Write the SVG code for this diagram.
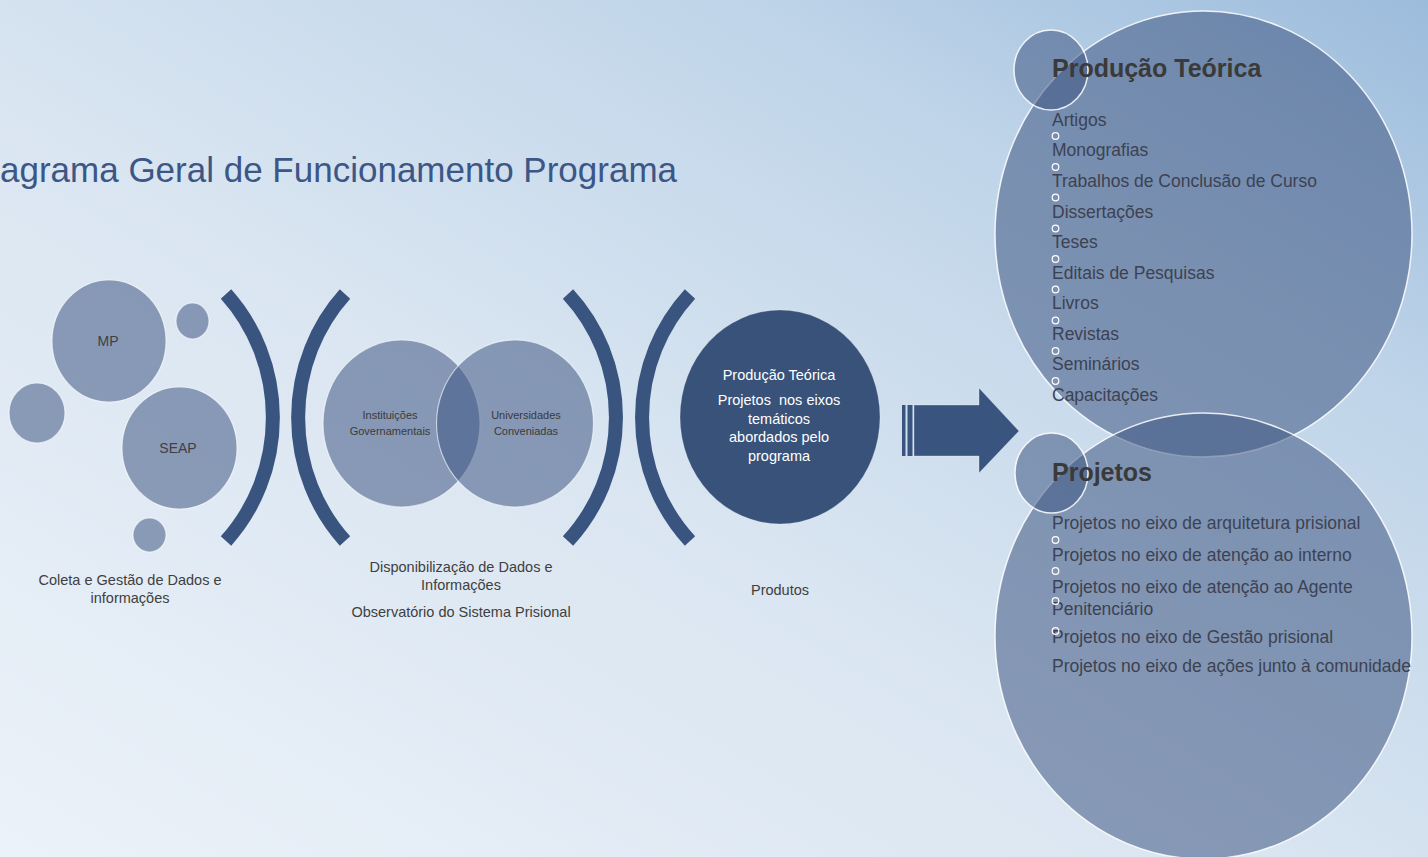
<svg xmlns="http://www.w3.org/2000/svg" width="1428" height="857" viewBox="0 0 1428 857">
  <defs>
    <linearGradient id="bg" x1="0" y1="1" x2="1" y2="0">
      <stop offset="0" stop-color="#ecf2f9"/>
      <stop offset="0.45" stop-color="#d9e5f1"/>
      <stop offset="0.75" stop-color="#c0d5e9"/>
      <stop offset="1" stop-color="#9cbcdc"/>
    </linearGradient>
    <style>
      .bub { fill: #3f5784; fill-opacity: 0.55; stroke: #ffffff; stroke-opacity: 0.6; stroke-width: 1.2; }
      .big { fill: #3f5784; fill-opacity: 0.55; stroke: #ffffff; stroke-opacity: 0.85; stroke-width: 1.5; }
      .dark { fill: #38527a; stroke: #ffffff; stroke-opacity: 0.25; stroke-width: 1; }
      .brk { fill: none; stroke: #3a5480; stroke-width: 14; stroke-linecap: butt; }
      .lbl { font-family: "Liberation Sans", Arial, sans-serif; font-size: 14.5px; fill: #404040; text-anchor: middle; }
      .sm { font-family: "Liberation Sans", Arial, sans-serif; font-size: 11px; fill: #3a3a3a; text-anchor: middle; }
      .wt { font-family: "Liberation Sans", Arial, sans-serif; font-size: 14.5px; fill: #ffffff; text-anchor: middle; white-space: pre; }
      .hd { font-family: "Liberation Sans", Arial, sans-serif; font-size: 25px; font-weight: bold; fill: #3a3a3a; }
      .it { font-family: "Liberation Sans", Arial, sans-serif; font-size: 17.5px; fill: #3d4252; }
      .bl { fill: none; stroke: #ffffff; stroke-width: 1.2; }
      .title { font-family: "Liberation Sans", Arial, sans-serif; font-size: 35px; fill: #3c5686; }
    </style>
  </defs>

  <rect x="0" y="0" width="1428" height="857" fill="url(#bg)"/>

  <text class="title" x="0" y="182">agrama Geral de Funcionamento Programa</text>

  <g id="coleta">
    <ellipse class="bub" cx="109" cy="341" rx="57" ry="61"/>
    <ellipse class="bub" cx="192.5" cy="321" rx="16.5" ry="18"/>
    <ellipse class="bub" cx="37" cy="413" rx="28" ry="30"/>
    <ellipse class="bub" cx="179.5" cy="448" rx="57.5" ry="61"/>
    <ellipse class="bub" cx="149.5" cy="535" rx="16.5" ry="17"/>
    <text class="lbl" x="108" y="346" style="font-size:14px">MP</text>
    <text class="lbl" x="178" y="453" style="font-size:14px">SEAP</text>
    <text class="lbl" x="130" y="585">Coleta e Gestão de Dados e</text>
    <text class="lbl" x="130" y="603">informações</text>
  </g>

  <g id="brackets-1">
    <path class="brk" d="M 226 294 A 172 180 0 0 1 226 541"/>
    <path class="brk" d="M 345 294 A 172 180 0 0 0 345 541"/>
  </g>

  <g id="observatorio">
    <ellipse class="bub" cx="401.5" cy="423.5" rx="78.5" ry="83.5"/>
    <ellipse class="bub" cx="515" cy="423.5" rx="78.5" ry="83.5"/>
    <text class="sm" x="390" y="419">Instituições</text>
    <text class="sm" x="390" y="435">Governamentais</text>
    <text class="sm" x="526" y="419">Universidades</text>
    <text class="sm" x="526" y="435">Conveniadas</text>
    <text class="lbl" x="461" y="572">Disponibilização de Dados e</text>
    <text class="lbl" x="461" y="590">Informações</text>
    <text class="lbl" x="461" y="617">Observatório do Sistema Prisional</text>
  </g>

  <g id="brackets-2">
    <path class="brk" d="M 568 294 A 176 180 0 0 1 568 541"/>
    <path class="brk" d="M 690 294 A 176 180 0 0 0 690 541"/>
  </g>

  <g id="produtos">
    <ellipse class="dark" cx="780" cy="417" rx="100" ry="107"/>
    <text class="wt" x="779" y="380">Produção Teórica</text>
    <text class="wt" x="779" y="405">Projetos  nos eixos</text>
    <text class="wt" x="779" y="424">temáticos</text>
    <text class="wt" x="779" y="442">abordados pelo</text>
    <text class="wt" x="779" y="461">programa</text>
    <text class="lbl" x="780" y="595">Produtos</text>
  </g>

  <g id="connectors">
    <rect x="902" y="405" width="3.5" height="51" fill="#3a5480"/>
    <rect x="907.5" y="405" width="5" height="51" fill="#3a5480"/>
    <path d="M 914 405 L 979 405 L 979 388 L 1019 431 L 979 473 L 979 456 L 914 456 Z" fill="#3a5480" stroke="#ffffff" stroke-opacity="0.3" stroke-width="1"/>
  </g>

  <g id="producao-teorica">
    <ellipse class="big" cx="1203.5" cy="234" rx="208.5" ry="223"/>
    <ellipse class="big" cx="1051" cy="70" rx="37" ry="40"/>
  </g>

  <g id="projetos">
    <ellipse class="big" cx="1203.5" cy="636" rx="208.5" ry="223"/>
    <ellipse class="big" cx="1051.5" cy="473" rx="36.5" ry="40"/>
  </g>

  <g id="producao-teorica-text">
    <text class="hd" x="1052" y="77">Produção Teórica</text>
    <text class="it" x="1052" y="126">Artigos</text>
    <text class="it" x="1052" y="156">Monografias</text>
    <text class="it" x="1052" y="187">Trabalhos de Conclusão de Curso</text>
    <text class="it" x="1052" y="218">Dissertações</text>
    <text class="it" x="1052" y="248">Teses</text>
    <text class="it" x="1052" y="279">Editais de Pesquisas</text>
    <text class="it" x="1052" y="309">Livros</text>
    <text class="it" x="1052" y="340">Revistas</text>
    <text class="it" x="1052" y="370">Seminários</text>
    <text class="it" x="1052" y="401">Capacitações</text>
    <circle class="bl" cx="1055.5" cy="136" r="3.3"/>
    <circle class="bl" cx="1055.5" cy="167" r="3.3"/>
    <circle class="bl" cx="1055.5" cy="197.5" r="3.3"/>
    <circle class="bl" cx="1055.5" cy="228.5" r="3.3"/>
    <circle class="bl" cx="1055.5" cy="259" r="3.3"/>
    <circle class="bl" cx="1055.5" cy="289.5" r="3.3"/>
    <circle class="bl" cx="1055.5" cy="320.5" r="3.3"/>
    <circle class="bl" cx="1055.5" cy="351" r="3.3"/>
    <circle class="bl" cx="1055.5" cy="381" r="3.3"/>
  </g>

  <g id="projetos-text">
    <text class="hd" x="1052" y="481">Projetos</text>
    <text class="it" x="1052" y="529">Projetos no eixo de arquitetura prisional</text>
    <text class="it" x="1052" y="561">Projetos no eixo de atenção ao interno</text>
    <text class="it" x="1052" y="593">Projetos no eixo de atenção ao Agente</text>
    <text class="it" x="1052" y="615">Penitenciário</text>
    <text class="it" x="1052" y="643">Projetos no eixo de Gestão prisional</text>
    <text class="it" x="1052" y="672">Projetos no eixo de ações junto à comunidade</text>
    <circle class="bl" cx="1055.5" cy="540" r="3.3"/>
    <circle class="bl" cx="1055.5" cy="571" r="3.3"/>
    <circle class="bl" cx="1055.5" cy="601" r="3.3"/>
    <circle class="bl" cx="1055.5" cy="631" r="3.3"/>
  </g>
</svg>
